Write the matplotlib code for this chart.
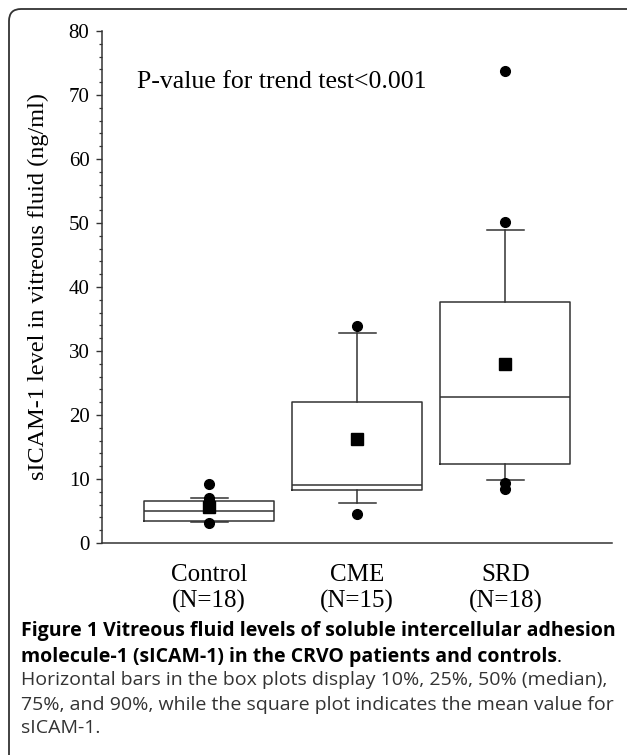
"""
Boxplot de sICAM-1 en fluido vitreo (Control / CME / SRD) con leyenda de figura.
Las cajas salen de estadisticas ya resumidas (percentiles 10/25/50/75/90 + media).
"""

import matplotlib
matplotlib.use("Agg")
import matplotlib.pyplot as plt
from matplotlib.patches import FancyBboxPatch
from matplotlib.ticker import MultipleLocator

# ---------------- datos ----------------
grupos = ["Control", "CME", "SRD"]
n_por_grupo = [18, 15, 18]
p10 = [3.3, 6.3, 9.8]
p25 = [3.4, 8.3, 12.3]
p50 = [5.0, 9.1, 22.8]
p75 = [6.6, 22.0, 37.7]
p90 = [7.0, 32.8, 48.9]
medias = [5.6, 16.2, 28.0]
atipicos = [
    [9.2, 7.1, 6.6, 6.2, 3.2],
    [33.9, 4.5],
    [73.8, 50.2, 9.3, 8.4],
]

SERIF = ["Liberation Serif", "DejaVu Serif"]
SANS = ["Open Sans", "DejaVu Sans"]
GRIS = "#333333"


def main():
    fig = plt.figure(figsize=(6.27, 7.55), dpi=100)
    ax = fig.add_axes([102 / 627, 1 - 543 / 755, (612 - 102) / 627, (543 - 31) / 755])

    stats = []
    for i, g in enumerate(grupos):
        stats.append(dict(label=f"{g}\n(N={n_por_grupo[i]})",
                          whislo=p10[i], q1=p25[i], med=p50[i], q3=p75[i],
                          whishi=p90[i], mean=medias[i], fliers=atipicos[i]))

    linea = dict(color=GRIS, linewidth=1.1)
    ax.bxp(stats, positions=[1, 2, 3], widths=0.878, capwidths=0.25,
           showmeans=True, showfliers=True,
           boxprops=linea, whiskerprops=linea, capprops=linea, medianprops=linea,
           meanprops=dict(marker="s", markerfacecolor="black", markeredgecolor="black",
                          markersize=8.5),
           flierprops=dict(marker="o", markerfacecolor="black", markeredgecolor="black",
                           markersize=7))

    ax.set_xlim(0.277, 3.72)
    ax.set_ylim(0, 80)
    ax.yaxis.set_major_locator(MultipleLocator(10))
    ax.yaxis.set_minor_locator(MultipleLocator(2))
    ax.tick_params(axis="y", which="major", direction="out", length=4, width=1,
                   color=GRIS, labelsize=15, pad=5)
    ax.tick_params(axis="y", which="minor", direction="out", length=2.2, width=0.9, color=GRIS)
    ax.tick_params(axis="x", length=0, pad=15, labelsize=18)
    for lab in ax.get_xticklabels() + ax.get_yticklabels():
        lab.set_family(SERIF)
    for lab in ax.get_xticklabels():
        lab.set_linespacing(1.25)
    for lado in ("top", "right"):
        ax.spines[lado].set_visible(False)
    for lado in ("left", "bottom"):
        ax.spines[lado].set_color(GRIS)
        ax.spines[lado].set_linewidth(1.1)

    ax.set_ylabel("sICAM-1 level in vitreous fluid (ng/ml)", family=SERIF, fontsize=17.5)
    ax.yaxis.set_label_coords(-0.103, 0.5)
    ax.text(0.51, 72, "P-value for trend test<0.001", family=SERIF, fontsize=18.5,
            va="center", ha="left")

    # marco redondeado de la figura (solo se ven borde superior e izquierdo)
    marco = FancyBboxPatch((0.09, -0.3), 6.6, 7.76,
                           boxstyle="round,pad=0,rounding_size=0.12",
                           transform=fig.dpi_scale_trans, fill=False,
                           edgecolor=GRIS, linewidth=1.3, clip_on=False)
    fig.add_artist(marco)

    # leyenda de la figura
    x0 = 21 / 627
    fig.text(x0, 1 - 636 / 755, "Figure 1 Vitreous fluid levels of soluble intercellular adhesion",
             family=SANS, fontweight="bold", fontsize=14, va="baseline")
    t2 = fig.text(x0, 1 - 662 / 755, "molecule-1 (sICAM-1) in the CRVO patients and controls",
                  family=SANS, fontweight="bold", fontsize=14, va="baseline")
    # el punto final va en regular, pegado al texto en negrita
    fig.canvas.draw()
    bb = t2.get_window_extent()
    fig.text(bb.x1 / fig.bbox.width, 1 - 662 / 755, ".", family=SANS,
             fontsize=14, va="baseline", ha="left")
    for y, txt in ((680, "Horizontal bars in the box plots display 10%, 25%, 50% (median),"),
                   (705, "75%, and 90%, while the square plot indicates the mean value for"),
                   (728, "sICAM-1.")):
        fig.text(x0, 1 - y / 755, txt, family=SANS, fontsize=14, va="center",
                 color="#333333")

    fig.savefig("out.png", dpi=100)


if __name__ == "__main__":
    main()
